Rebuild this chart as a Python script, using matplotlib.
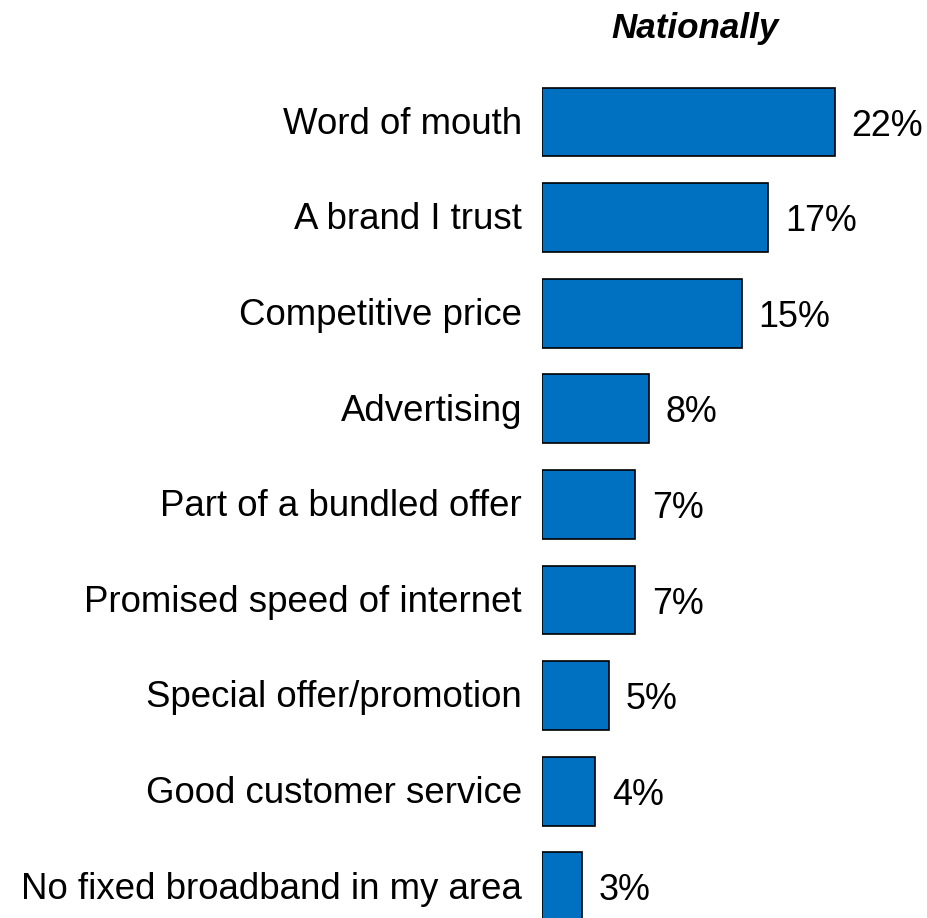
import matplotlib
matplotlib.use("Agg")
import matplotlib.pyplot as plt

categories = [
    "Word of mouth",
    "A brand I trust",
    "Competitive price",
    "Advertising",
    "Part of a bundled offer",
    "Promised speed of internet",
    "Special offer/promotion",
    "Good customer service",
    "No fixed broadband in my area",
]
values = [22, 17, 15, 8, 7, 7, 5, 4, 3]
title = "Nationally"

plt.rcParams["font.family"] = ["Liberation Sans", "DejaVu Sans"]

W, H = 928, 918
fig = plt.figure(figsize=(W / 100, H / 100), dpi=100)

# axes placed in pixel terms: x=0 at px 542, 13.32 px per %
left_px, top_px = 542, 75
ax = fig.add_axes([left_px / W, 0, (W - left_px) / W, (H - top_px) / H])

pos = list(range(len(categories)))
ax.barh(pos, values, height=0.72, color="#0070C0", edgecolor="black", linewidth=1.2)

px_per_unit = 13.32
ax.set_xlim(0, (W - left_px) / px_per_unit)
row = 95.6
ax.set_ylim((H - 122) / row, (top_px - 122) / row)
ax.set_xticks([])
ax.set_yticks([])
for s in ax.spines.values():
    s.set_visible(False)

# category labels, right-aligned left of the bars
for p, name in zip(pos, categories):
    ax.annotate(name, (0, p), xytext=(-14.4, -8.5), textcoords="offset points",
                va="baseline", ha="right", fontsize=26.4, annotation_clip=False)

# value labels
for p, v in zip(pos, values):
    ax.annotate(f"{v}%", (v, p), xytext=(12, -9.8), textcoords="offset points",
                va="baseline", ha="left", fontsize=25.8, annotation_clip=False)

fig.text(695 / W, 1 - 38 / H, title, ha="center", va="baseline",
         fontsize=25.2, fontweight="bold", fontstyle="italic")

fig.savefig("out.png", dpi=100)
